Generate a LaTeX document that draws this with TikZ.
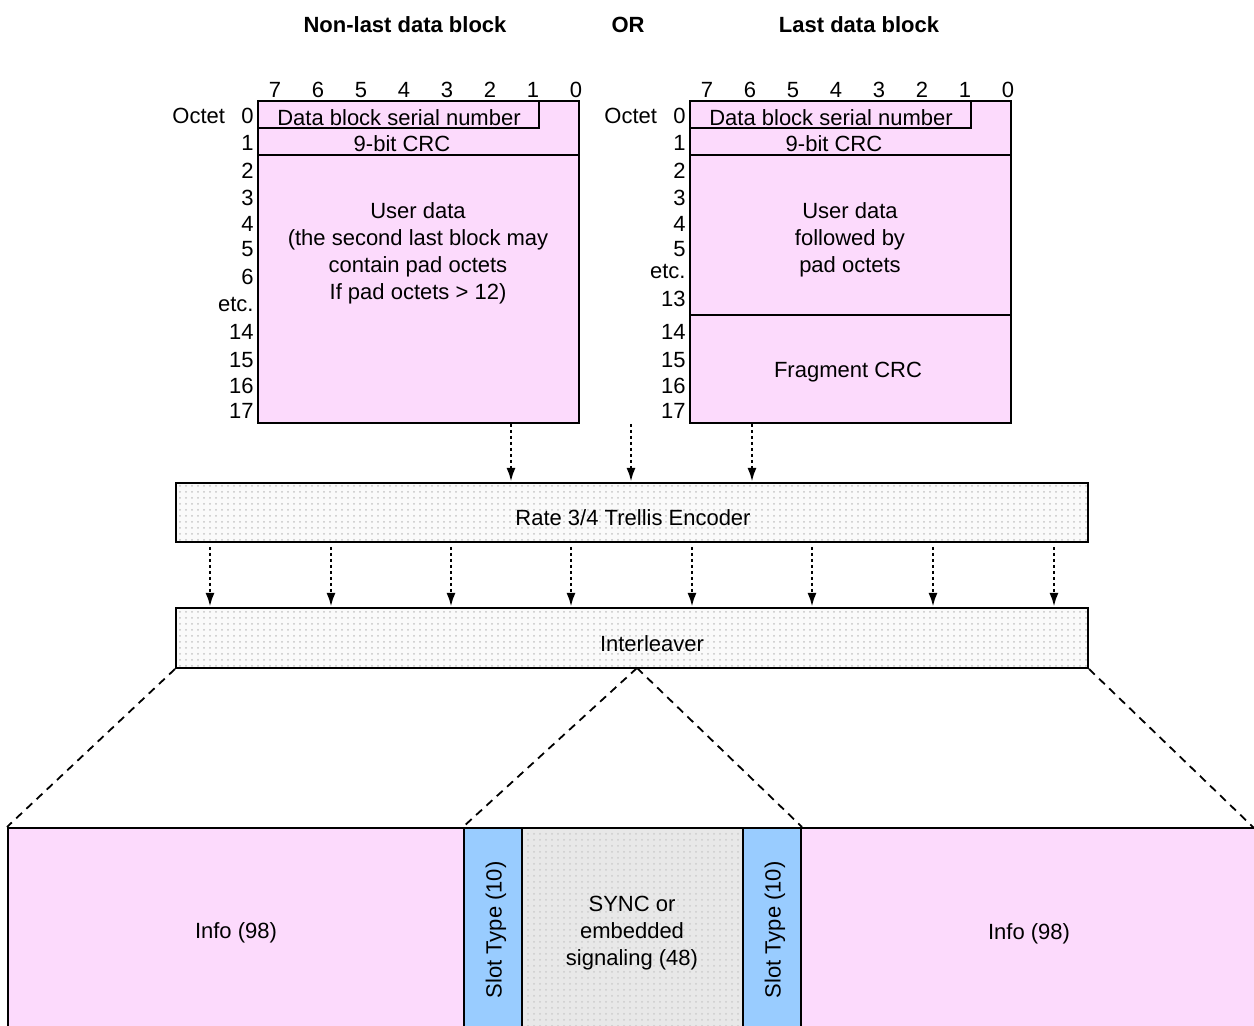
\documentclass[tikz,border=0pt]{standalone}
\usepackage{fontspec}
\setmainfont{Liberation Sans}
\usetikzlibrary{fit,patterns,arrows.meta}
\definecolor{pinkc}{RGB}{252,218,252}
\definecolor{bluec}{RGB}{153,204,255}
\definecolor{grayc}{RGB}{232,232,232}
\definecolor{encbg}{RGB}{250,250,250}
\begin{document}
\begin{tikzpicture}[x=0.5pt,y=-0.5pt, font=\fontsize{11}{13.5}\selectfont,
  box/.style={draw, line width=1pt, inner sep=0pt},
  pinkbox/.style={box, fill=pinkc},
  encbox/.style={box, pattern=dots, pattern color=gray!45, preaction={fill=encbg}},
  syncbox/.style={box, pattern=dots, pattern color=gray!40, preaction={fill=grayc}},
  bluebox/.style={box, fill=bluec},
  lbl/.style={inner sep=0pt, anchor=base},
  num/.style={inner sep=0pt, anchor=base east},
  ctr/.style={inner sep=0pt, align=center},
  title/.style={inner sep=0pt, font=\fontsize{11}{13.5}\selectfont\bfseries},
  darr/.style={dash pattern=on 1.5pt off 1.5pt, line width=1.3pt, -{Latex[length=7pt,width=4.5pt]}},
  dline/.style={dash pattern=on 4pt off 3pt, line width=0.9pt},
]
\clip (0,0) rectangle (1254,1026);

% titles
\node[title] (t1) at (405,25) {Non-last data block};
\node[title] (t2) at (628,25) {OR};
\node[title] (t3) at (859,25) {Last data block};

% ---------- left block ----------
\node[pinkbox, fit={(258,101)(579,423)}] (lb) {};
\node[box, line width=0.8pt, fit={(258,101)(539,128)}] (lsn) {};
\node[ctr] (lsnt) at (399,118) {Data block serial number};
\node[inner sep=0pt, fit={(258,128)(579,155)}] (lcrc) {};
\draw[line width=1pt] (lcrc.south west) -- (lcrc.south east);
\node[ctr] (lcrct) at (402,144) {9-bit CRC};
\node[ctr] (lud) at (418,253) {User data\\(the second last block may\\contain pad octets\\If pad octets > 12)};
% bit numbers left
\foreach \b [count=\i from 0] in {7,6,5,4,3,2,1,0}{
  \node[lbl] (lbit\b) at (275+43*\i,98) {\b};
}
\node[inner sep=0pt, anchor=base west] (loct) at (172,124) {Octet};
\foreach \t/\y [count=\k] in {0/124,1/151,2/179,3/206,4/232,5/257,6/285,etc./312,14/340,15/368,16/394,17/419}{
  \node[num] (lo\k) at (254,\y) {\t};
}

% ---------- right block ----------
\node[pinkbox, fit={(690,101)(1011,423)}] (rb) {};
\node[box, line width=0.8pt, fit={(690,101)(971,128)}] (rsn) {};
\node[ctr] (rsnt) at (831,118) {Data block serial number};
\node[inner sep=0pt, fit={(690,128)(1011,155)}] (rcrc) {};
\draw[line width=1pt] (rcrc.south west) -- (rcrc.south east);
\node[ctr] (rcrct) at (834,144) {9-bit CRC};
\node[inner sep=0pt, fit={(690,155)(1011,315)}] (rud) {};
\draw[line width=1pt] (rud.south west) -- (rud.south east);
\node[ctr] (rudt) at (850,240) {User data\\followed by\\pad octets};
\node[ctr] (rfc) at (848,372) {Fragment CRC};
\foreach \b [count=\i from 0] in {7,6,5,4,3,2,1,0}{
  \node[lbl] (rbit\b) at (707+43*\i,98) {\b};
}
\node[inner sep=0pt, anchor=base west] (roct) at (604,124) {Octet};
\foreach \t/\y [count=\k] in {0/124,1/151,2/179,3/206,4/232,5/257,etc./279,13/307,14/340,15/368,16/394,17/419}{
  \node[num] (ro\k) at (686,\y) {\t};
}

% ---------- encoder and interleaver ----------
\node[encbox, fit={(176,483)(1088,542)}] (enc) {};
\node[ctr] (enct) at (633,518) {Rate 3/4 Trellis Encoder};
\node[encbox, fit={(176,608)(1088,668)}] (intl) {};
\node[ctr] (intlt) at (652,644) {Interleaver};

\coordinate (ca) at (511,0);
\coordinate (cb) at (631,0);
\coordinate (cc) at (752,0);
\draw[darr] (lb.south -| ca) -- (enc.north -| ca);
\draw[darr] (cb |- lb.south) -- (enc.north -| cb);
\draw[darr] (rb.south -| cc) -- (enc.north -| cc);

\foreach \x [count=\i] in {210,331,451,571,692,812,933,1054}{
  \coordinate (d\i) at (\x,0);
  \draw[darr] ([yshift=-2pt]enc.south -| d\i) -- (intl.north -| d\i);
}

% ---------- burst ----------
\node[pinkbox, fit={(8,828)(464,1040)}] (info1) {};
\node[bluebox, fit={(464,828)(522,1040)}] (st1) {};
\node[syncbox, fit={(522,828)(743,1040)}] (sync) {};
\node[bluebox, fit={(743,828)(801,1040)}] (st2) {};
\node[pinkbox, fit={(801,828)(1262,1040)}] (info2) {};

\node[ctr] (info1t) at (236,933) {Info (98)};
\node[ctr] (info2t) at (1029,934) {Info (98)};
\node[ctr, rotate=90] (st1t) at (496,930) {Slot Type (10)};
\node[ctr, rotate=90] (st2t) at (775,930) {Slot Type (10)};
\node[ctr] (synct) at (632,933) {SYNC or\\embedded\\signaling (48)};

\coordinate (mid) at (637,668);
\draw[dline] (intl.south west) -- (info1.north west);
\draw[dline] (intl.south east) -- (1254,828);
\draw[dline] (mid) -- (st1.north west);
\draw[dline] (mid) -- (st2.north east);
\end{tikzpicture}
\end{document}
